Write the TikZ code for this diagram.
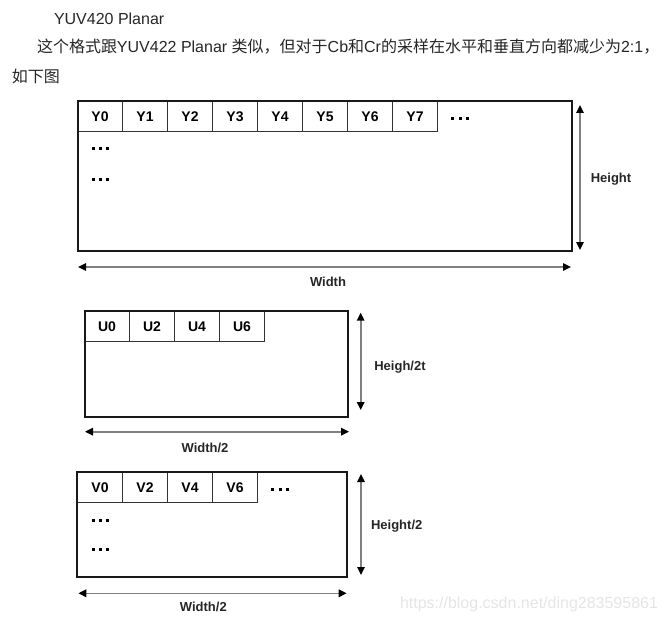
\documentclass[tikz,border=0pt]{standalone}
\usepackage{fontspec}
\setmainfont{Liberation Sans}
\newfontfamily\cjk{Noto Sans CJK SC}
\usetikzlibrary{positioning, arrows.meta}

\newcommand{\threedots}{\rule{3pt}{3pt}\kern4.2pt\rule{3pt}{3pt}\kern4.2pt\rule{3pt}{3pt}}

\begin{document}
\begin{tikzpicture}[
    x=1pt, y=-1pt,
    every node/.style = {inner sep=0pt, outer sep=0pt},
    heading/.style  = {anchor=west, text=black!85, font=\fontsize{16}{18}\selectfont},
    plane/.style    = {draw=black!90, line width=2pt},
    cell/.style     = {draw=black!80, line width=1pt, minimum width=45, minimum height=30,
                       text height=10pt, text depth=0pt, font=\fontsize{14}{16}\bfseries},
    dots/.style     = {text=black},
    dimlabel/.style = {text=black!85, font=\fontsize{13}{15}\bfseries},
    dimarrow/.style = {draw=black!50, line width=1.6pt,
                       {Triangle[length=8pt, width=7.5pt, color=black]}-{Triangle[length=8pt, width=7.5pt, color=black]}},
    watermark/.style = {text=black!10, font=\fontsize{16}{18}\selectfont}
]
\useasboundingbox (0,0) rectangle (664,623);

% heading text
\node[heading] (title) at (54,19) {YUV420 Planar};
\node[heading] (line1) at (37,47) {{\cjk 这个格式跟}YUV422 Planar {\cjk 类似，但对于}Cb{\cjk 和}Cr{\cjk 的采样在水平和垂直方向都减少为}2:1{\cjk ，}};
\node[heading] (line2) at (12,76) {\cjk 如下图};

% Y plane
\node[cell] (y0) at (100,116.25) {Y0};
\node[cell] (y1) at (145,116.25) {Y1};
\node[cell] (y2) at (190,116.25) {Y2};
\node[cell] (y3) at (235,116.25) {Y3};
\node[cell] (y4) at (280,116.25) {Y4};
\node[cell] (y5) at (325,116.25) {Y5};
\node[cell] (y6) at (370,116.25) {Y6};
\node[cell] (y7) at (415,116.25) {Y7};
\node[dots] (ydots0) at (460,119) {\threedots};
\node[dots] (ydots1) at (100.5,148.3) {\threedots};
\node[dots] (ydots2) at (100.5,179.3) {\threedots};
\node[plane, minimum width=494, minimum height=149] (yplane) at (324.5,176) {};

% Y size arrows
\coordinate (yh1) at (580,105);
\coordinate (yh2) at (580,250);
\coordinate (yw1) at (78,267);
\coordinate (yw2) at (571,267);
\draw[dimarrow] (yh1) -- (yh2);
\draw[dimarrow] (yw1) -- (yw2);
\node[dimlabel] (yheight) at (611,179) {Height};
\node[dimlabel] (ywidth) at (328,282) {Width};

% U plane
\node[cell] (u0) at (107,326.5) {U0};
\node[cell] (u2) at (152,326.5) {U2};
\node[cell] (u4) at (197,326.5) {U4};
\node[cell] (u6) at (242,326.5) {U6};
\node[plane, minimum width=263, minimum height=105.5] (uplane) at (216.2,363.9) {};

% U size arrows
\coordinate (uh1) at (360.7,312.7);
\coordinate (uh2) at (360.7,410);
\coordinate (uw1) at (85,431.7);
\coordinate (uw2) at (349,431.7);
\draw[dimarrow] (uh1) -- (uh2);
\draw[dimarrow] (uw1) -- (uw2);
\node[dimlabel] (uheight) at (400,367) {Heigh/2t};
\node[dimlabel] (uwidth) at (205,447.7) {Width/2};

% V plane
\node[cell] (v0) at (100,487.5) {V0};
\node[cell] (v2) at (145,487.5) {V2};
\node[cell] (v4) at (190,487.5) {V4};
\node[cell] (v6) at (235,487.5) {V6};
\node[dots] (vdots0) at (280,489) {\threedots};
\node[dots] (vdots1) at (100.5,520) {\threedots};
\node[dots] (vdots2) at (100.5,549.3) {\threedots};
\node[plane, minimum width=270, minimum height=104.4] (vplane) at (212.3,524.5) {};

% V size arrows
\coordinate (vh1) at (361,474);
\coordinate (vh2) at (361,575);
\coordinate (vw1) at (78.3,593.3);
\coordinate (vw2) at (346.7,593.3);
\draw[dimarrow] (vh1) -- (vh2);
\draw[dimarrow] (vw1) -- (vw2);
\node[dimlabel] (vheight) at (396.7,525.7) {Height/2};
\node[dimlabel] (vwidth) at (203.3,606.7) {Width/2};

% watermark
\node[watermark] (mark) at (529,604) {https://blog.csdn.net/ding283595861};

\end{tikzpicture}
\end{document}
